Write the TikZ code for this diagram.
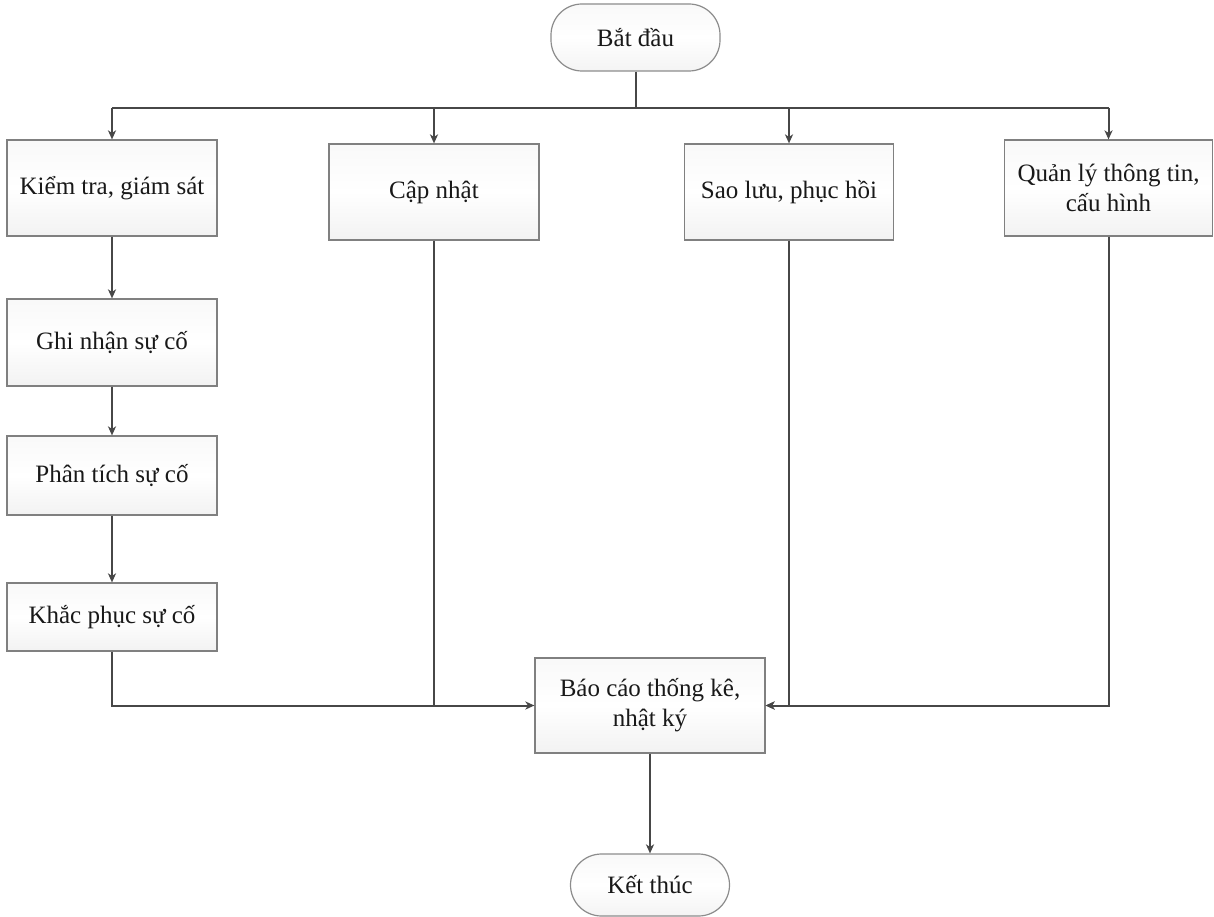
\documentclass[tikz,border=0pt]{standalone}
\usepackage{fontspec}
\setmainfont{Liberation Serif}
\usetikzlibrary{arrows.meta}
\begin{document}
\begin{tikzpicture}[x=1pt,y=-1pt,
  every node/.style={font=\fontsize{25}{30}\selectfont, align=center, text=black!90},
  proc/.style={draw=black!50, line width=1.2pt, top color=gray!5, bottom color=gray!10, middle color=white,
     rectangle, inner sep=0pt, minimum width=210pt},
  term/.style={draw=black!45, line width=1.2pt, top color=gray!5, bottom color=gray!9, middle color=white,
     rectangle, rounded corners=31pt, inner sep=0pt},
  conn/.style={draw=black!72, line width=2pt},
  arr/.style={conn, -{Stealth[length=9pt,width=8pt,inset=2.5pt]}}
]
\useasboundingbox (0,0) rectangle (1214,917);

\node[term, minimum width=169pt, minimum height=67pt] (start) at (635.5,37.5) {Bắt đầu};
\node[proc, minimum height=96pt] (b1) at (112,188) {Kiểm tra, giám sát};
\node[proc, minimum height=96pt] (b2) at (434,192) {Cập nhật};
\node[proc, minimum height=96pt, minimum width=209pt] (b3) at (789,192) {Sao lưu, phục hồi};
\node[proc, minimum height=96pt, minimum width=208pt] (b4) at (1108.5,188) {Quản lý thông tin,\\cấu hình};
\node[proc, minimum height=87pt] (b5) at (112,342.5) {Ghi nhận sự cố};
\node[proc, minimum height=79pt] (b6) at (112,475.5) {Phân tích sự cố};
\node[proc, minimum height=68pt] (b7) at (112,617) {Khắc phục sự cố};
\node[proc, minimum width=230pt, minimum height=95pt] (b8) at (650,705.5) {Báo cáo thống kê,\\nhật ký};
\node[term, minimum width=159pt, minimum height=62pt] (end) at (650,885) {Kết thúc};

\coordinate (bus) at (0,108);
\draw[conn] (start.south) -- (start.south |- bus);
\draw[conn] (b1.north |- bus) -- (b4.north |- bus);
\draw[arr] (b1.north |- bus) -- (b1.north);
\draw[arr] (b2.north |- bus) -- (b2.north);
\draw[arr] (b3.north |- bus) -- (b3.north);
\draw[arr] (b4.north |- bus) -- (b4.north);

\draw[arr] (b1.south) -- (b5.north);
\draw[arr] (b5.south) -- (b6.north);
\draw[arr] (b6.south) -- (b7.north);

\draw[arr] (b7.south) |- (b8.west);
\draw[conn] (b2.south) -- (b2.south |- b8.west);
\draw[arr] (b3.south) |- (b8.east);
\draw[arr] (b4.south) |- (b8.east);
\draw[arr] (b8.south) -- (end.north);
\end{tikzpicture}
\end{document}
